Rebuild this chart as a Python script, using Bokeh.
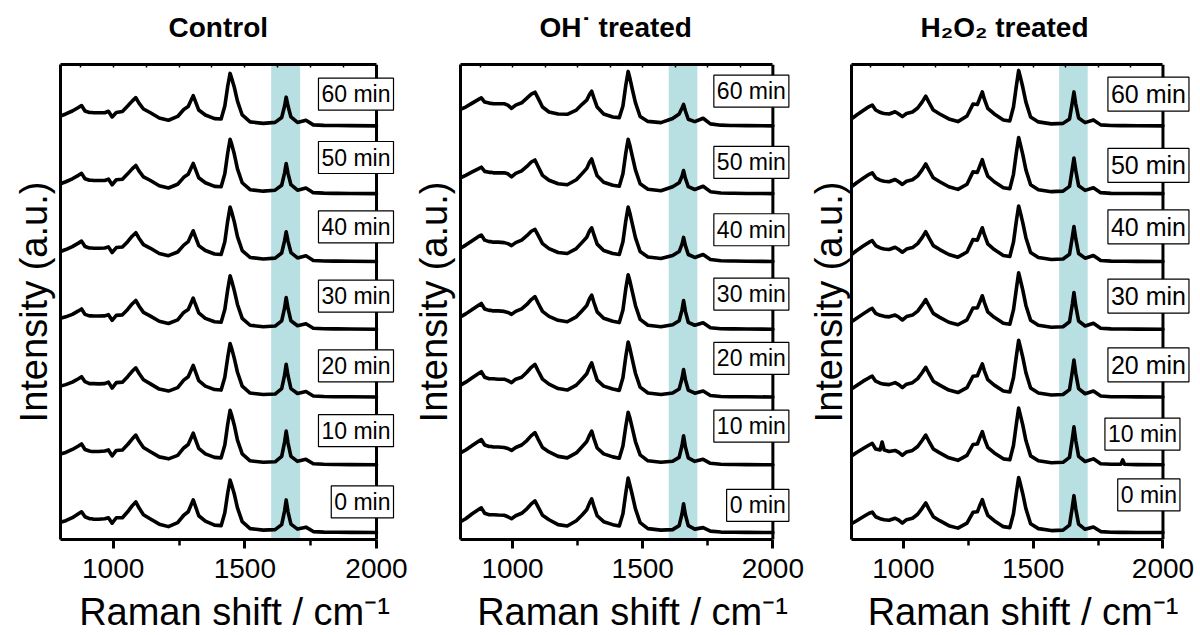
from bokeh.plotting import figure
from bokeh.layouts import row
from bokeh.models import (Label, BoxAnnotation, FixedTicker, Range1d, ColumnDataSource,
                          LinearAxis, Span)
from bokeh.embed import file_html
from bokeh.resources import INLINE

# ---------------- data ----------------
raman_shift = [800, 820, 845, 868, 880, 893, 910, 918, 926, 945,
               968, 982, 996, 1012, 1035, 1055, 1072, 1086, 1098, 1115,
               1140, 1175, 1210, 1245, 1268, 1285, 1296, 1304, 1312, 1325,
               1350, 1385, 1410, 1424, 1435, 1444, 1450, 1460, 1472, 1490,
               1520, 1570, 1615, 1640, 1651, 1657, 1664, 1675, 1700, 1732,
               1760, 1800, 1838, 1845, 1852, 1900, 2000]

times = ["0 min", "10 min", "20 min", "30 min", "40 min", "50 min", "60 min"]
panel_titles = ["Control", "OH\u02d9 treated", "H\u2082O\u2082 treated"]
band_range = [1600, 1710]
x_ticks = [1000, 1500, 2000]
x_minor_ticks = [1250, 1750]
top_minor_ticks = [875, 1000, 1125, 1250, 1375, 1500, 1625, 1750, 1875]

ctrl_0 = [10.5, 12, 15, 19, 21, 16, 14, 14, 13.5, 13.5,
          14, 15, 9.5, 15, 15, 21, 27, 31, 25, 18,
          14, 8.5, 6, 10, 17.5, 21, 28, 33, 27, 17,
          11.5, 7.5, 7, 20, 40, 53, 48, 39, 25, 11,
          4, 2.5, 3, 8, 22, 33, 21, 8.5, 3.5, 5.5,
          1, 0.5, 0.3, 0.3, 0.3, 0.2, 0]
ctrl_10 = [11, 12.5, 15.5, 19, 21, 15.5, 14, 13.5, 13.5, 13.5,
           14, 15, 9, 14.5, 15, 20.5, 26, 30, 24, 17.5,
           13.5, 8, 6, 9.5, 17, 20.5, 27, 32, 26, 16.5,
           11, 7.5, 7, 20, 41, 55, 50, 40, 25, 11,
           4, 2.5, 3, 8.5, 23, 34, 22, 8.5, 3.5, 5.5,
           1, 0.5, 0.3, 0.3, 0.3, 0.2, 0]
ctrl_20 = [11, 12.5, 15, 18.5, 20.5, 15.5, 13.5, 13.5, 13.5, 13.3,
           13.5, 15, 9, 14.5, 15, 20.5, 26, 29.5, 24, 17.5,
           13.5, 8, 6, 9.5, 17, 20.5, 27, 32, 26, 16.5,
           11, 7.5, 7, 20, 40, 54, 49, 39, 25, 11,
           4, 2.5, 3, 8.5, 22, 33, 21.5, 8.5, 3.5, 5.5,
           1, 0.5, 0.3, 0.3, 0.3, 0.2, 0]
ctrl_30 = [11, 12.5, 15, 18.5, 20.5, 15, 13.5, 13.5, 13.3, 13.3,
           13.5, 14.7, 9, 14, 14.5, 20, 25.5, 29, 23.5, 17,
           13.5, 8, 5.8, 9.5, 17, 20, 26.5, 31.5, 25.5, 16.5,
           11, 7.5, 7, 20, 40, 54, 49, 39, 25, 11,
           4, 2.5, 3.2, 8.5, 21.5, 32, 21, 8.5, 3.5, 5.5,
           1, 0.5, 0.3, 0.3, 0.3, 0.2, 0]
ctrl_40 = [10, 12, 15, 18.5, 20.5, 15, 13.5, 13.5, 13.3, 13.3,
           13.5, 14.7, 9, 14, 14.5, 20, 25.5, 29, 23.5, 17,
           13.5, 8, 5.8, 9.5, 16.5, 20, 26.5, 31, 25, 16,
           11, 7.5, 7, 20, 41, 55, 50, 40, 25, 11,
           4, 2.5, 3.3, 8.5, 21, 30, 20.5, 9, 3.5, 5.7,
           1, 0.5, 0.3, 0.3, 0.3, 0.2, 0]
ctrl_50 = [10, 12, 15, 18.5, 20.5, 15, 13.5, 13.5, 13.3, 13.3,
           13.3, 14.7, 9, 14, 14.5, 20, 25, 28.5, 23, 17,
           13.5, 8, 5.7, 9.5, 16.5, 19.5, 26, 30.5, 25, 16,
           11, 7.3, 7, 20, 41, 55, 50, 40, 25, 11,
           4, 2.5, 3.5, 8.5, 21, 30.5, 20.5, 9, 3.5, 5.7,
           1, 0.5, 0.3, 0.3, 0.3, 0.2, 0]
ctrl_60 = [10, 12, 15, 18.5, 20.5, 15, 13.5, 13.5, 13.3, 13.3,
           13.3, 14.7, 9, 13.5, 14.5, 20, 25, 28.5, 23, 17,
           13.5, 8, 5.7, 9.5, 16.5, 19.5, 26, 30.5, 25, 16,
           11, 7.3, 7, 20, 40, 53, 48, 39, 25, 11,
           4, 2.5, 3.5, 8.5, 20, 29, 20, 9, 3.5, 5.7,
           1, 0.5, 0.3, 0.3, 0.3, 0.2, 0]

oh_0 = [11, 14, 19, 23, 25, 19.5, 18, 18, 18, 17.7,
        17.5, 16, 14, 17, 19.5, 24, 29, 32, 26, 17.5,
        13, 8, 6.7, 12, 18, 23, 30, 34, 27, 17,
        11, 8, 6.7, 19, 40, 55, 49, 38, 24, 10,
        4, 2.5, 3, 7, 19, 29, 18, 7, 3.5, 5,
        1.5, 0.5, 0.3, 0.3, 0.3, 0.2, 0]
oh_10 = [12, 15, 19.5, 23.5, 25.5, 20, 18.5, 18.5, 18, 18,
         17.5, 16.5, 14.5, 17.5, 20, 24.5, 29.5, 32.5, 26, 17.5,
         13, 8.5, 7, 12, 18.5, 23.5, 30, 34, 27, 17,
         11, 8, 6.7, 19, 39, 53, 48, 37, 23.5, 10,
         4, 2.5, 3.5, 7.5, 19.5, 29.3, 18, 7, 3.5, 5.5,
         1.5, 0.5, 0.3, 0.3, 0.3, 0.2, 0]
oh_20 = [12, 15, 19.5, 23.5, 25.5, 20, 18.5, 18.5, 18.5, 18,
         18, 16.5, 14.5, 18, 20, 25, 30, 33, 26.5, 18,
         13, 8.5, 7, 12, 18.5, 23.5, 30.5, 34.5, 27.5, 17,
         11, 8, 6.7, 19.5, 41, 55.5, 50, 38, 24, 10,
         4, 2.5, 4, 8, 19, 27.7, 17.5, 7, 3.8, 6,
         1.5, 0.5, 0.3, 0.3, 0.3, 0.2, 0]
oh_30 = [12.5, 15.5, 20, 24, 26, 20.5, 19, 19, 18.5, 18.5,
         18, 17, 15, 18, 20.5, 25, 30, 33, 26.5, 18,
         13, 9, 7.5, 12.5, 19, 24, 31, 34.5, 27.5, 17.5,
         11, 8, 6.7, 19.5, 41, 55, 49.5, 38, 24, 10,
         4, 2.5, 4.5, 8.5, 19.5, 29, 18, 7, 4, 6.5,
         1.5, 0.5, 0.3, 0.3, 0.3, 0.2, 0]
oh_40 = [13.3, 16.5, 21, 25, 26.7, 21.5, 20, 20, 19.5, 19.5,
         19, 18, 16, 19, 21.5, 26, 30.5, 32.3, 26.5, 18,
         13, 9, 8, 13, 19.5, 24.5, 31, 34, 27.5, 17.5,
         11, 8, 7, 20, 41, 55, 49.5, 38, 24, 10,
         4.5, 3, 6, 10, 17.5, 24.3, 16, 7, 4, 7,
         2, 0.7, 0.4, 0.4, 0.4, 0.2, 0]
oh_50 = [16, 18.5, 22, 25, 26.7, 22.5, 21.5, 21.5, 21, 21,
         21, 20, 17, 20.5, 23, 27.5, 32, 34, 27.5, 18.5,
         13.5, 10, 9, 14, 20.5, 25.5, 32, 35, 28, 18,
         11.5, 8.5, 7.5, 20, 41, 55, 49.5, 38, 24, 10,
         4.5, 3, 7, 11, 17.5, 23.3, 15.5, 7, 4.2, 7.5,
         2, 0.7, 0.4, 0.4, 0.4, 0.2, 0]
oh_60 = [16.7, 19, 23, 26.5, 28.3, 24, 23, 22.7, 22.5, 22.3,
         22.3, 21, 17.7, 21, 23.3, 28, 32, 34, 28, 19,
         14, 12, 11.7, 16, 22, 26, 32, 35, 28.5, 19,
         12, 9, 8.3, 20, 41, 55, 49, 37, 23.5, 9.5,
         4.5, 3.3, 7.5, 12, 18, 21.7, 15, 6.7, 4.3, 7.7,
         2, 0.7, 0.4, 0.4, 0.4, 0.2, 0]

h2o2_0 = [9, 12, 16, 19.5, 20.7, 16, 14, 13.5, 13, 12.5,
          14.5, 12.5, 9.5, 13, 14.5, 18.5, 24.5, 30, 24, 16,
          12, 7, 4.5, 9.5, 20.5, 21, 28.5, 33.3, 26.5, 17.5,
          12, 6, 5, 19, 40, 55.7, 50, 39, 24, 9,
          4, 2, 2.5, 7.5, 26, 37.3, 24, 8.5, 3.3, 5.7,
          1, 0.3, 0.2, 0.2, 0.2, 0.1, 0]
h2o2_10 = [9, 12.5, 16.5, 20, 21.7, 16, 15, 23, 15, 13.5,
           14.5, 12.5, 9.5, 13, 14.5, 18.5, 24.5, 30, 24, 16,
           12, 7, 4.5, 9.5, 20.5, 21, 28.5, 33.5, 26.5, 17.5,
           12, 6, 5, 19.5, 41, 57.3, 51, 40, 24.5, 9,
           4, 2, 2.5, 7.5, 26.5, 38.3, 24.5, 8.5, 3.3, 6,
           1, 0.5, 0.5, 5, 0.5, 0.2, 0]
h2o2_20 = [8, 11.5, 16, 19.5, 21, 16, 14, 13.5, 13, 12.5,
           14.5, 12.5, 9.5, 13, 14.5, 18.5, 24.5, 30, 24, 16,
           12, 7, 4.5, 9.5, 21, 21.5, 28.5, 33.5, 26.5, 17.5,
           12, 6, 5, 19.5, 41, 57.3, 51, 40, 24.5, 9,
           4, 2, 2.5, 7.5, 26, 37.3, 24, 8.5, 3.3, 6,
           1, 0.3, 0.2, 0.2, 0.2, 0.1, 0]
h2o2_30 = [7.5, 11, 15.5, 19.5, 21, 16, 14, 13.5, 13, 12.5,
           14.3, 12.3, 9.3, 12.8, 14.3, 18.3, 24.3, 30, 24, 16,
           12, 7, 4.5, 9.5, 21.5, 21.5, 28.5, 33.8, 27, 17.5,
           12, 6, 5, 19.5, 40.5, 57, 50.5, 39.5, 24, 9,
           4, 2, 2.5, 7.5, 25.5, 37, 23.5, 8.3, 3.3, 6,
           1, 0.3, 0.2, 0.2, 0.2, 0.1, 0]
h2o2_40 = [7, 11, 15.5, 19.5, 21, 16, 13.7, 13, 12.5, 12,
           14.3, 12, 9.3, 12.5, 14, 18, 24, 30, 24, 16,
           12, 7, 4.3, 9.5, 22, 21.5, 29, 34, 27, 17.7,
           12, 6, 5, 19.5, 40.5, 56, 50, 39, 24, 9,
           4, 2, 2.5, 7.3, 25, 35.3, 23, 8, 3.3, 6,
           1, 0.3, 0.2, 0.2, 0.2, 0.1, 0]
h2o2_50 = [7, 11, 15.5, 19.5, 21, 16, 13.7, 13, 12.5, 12,
           14.3, 12, 9.3, 12.5, 14, 18, 24, 30, 24, 16,
           12, 7, 4.3, 9.5, 22, 21.5, 29, 34.3, 27, 17.7,
           12, 6, 5, 19.5, 41, 56.7, 50.5, 39.5, 24, 9,
           4, 2, 2.5, 7.3, 25.5, 36, 23.5, 8, 3.3, 6,
           1, 0.3, 0.2, 0.2, 0.2, 0.1, 0]
h2o2_60 = [7, 11, 15.5, 19.5, 21, 16, 13.7, 13, 12.5, 12,
           14.3, 12, 9.3, 12.5, 14, 18, 24, 30, 24, 16,
           12, 7, 4.3, 10, 22, 21.5, 29, 34.3, 27, 17.7,
           12, 6, 5, 19, 40, 56, 50, 39, 24, 9,
           4, 2, 2.5, 7, 24, 34.3, 22, 8, 3.3, 6,
           1, 0.3, 0.2, 0.2, 0.2, 0.1, 0]

control_spectra = [ctrl_0, ctrl_10, ctrl_20, ctrl_30, ctrl_40, ctrl_50, ctrl_60]
oh_spectra = [oh_0, oh_10, oh_20, oh_30, oh_40, oh_50, oh_60]
h2o2_spectra = [h2o2_0, h2o2_10, h2o2_20, h2o2_30, h2o2_40, h2o2_50, h2o2_60]

# ---------------- layout / style ----------------
STEP = 68.5                      # vertical offset between stacked spectra (a.u.)
FONT = "Liberation Sans"
BAND_COLOR = "#b8dfe2"
X_END = 2121.5                   # frame runs a little past 2000 so the tags fit
# tag placement: centre heights (a.u.), right-edge pixel offsets, font sizes
ctrl_label_y = [31, 103, 168.5, 239, 309, 379, 443]
oh_label_y = [27.5, 107.5, 176, 241, 306, 374, 446]
h2o2_label_y = [38, 99.5, 169.5, 239, 309, 371, 443]
ctrl_tag_dx = [17] * 7
oh_tag_dx = [16] * 7
h2o2_tag_dx = [17, 17, 26, 26, 26, 26, 26]
ctrl_tag_size = ["23px"] * 7
oh_tag_size = ["23px"] * 7
h2o2_tag_size = ["23px", "23px", "25px", "25px", "25px", "25px", "25px"]


def make_panel(title, title_offset, spectra, label_y, tag_dx, tag_size, left, right,
               ylabel_standoff):
    p = figure(width=left + 348 + right, height=635,
               x_range=Range1d(800, X_END), y_range=Range1d(-7, 473),
               min_border_left=left, min_border_right=right,
               min_border_top=64, min_border_bottom=91,
               output_backend="svg", toolbar_location=None, title=title)
    p.title.align = "left"
    p.title.offset = title_offset
    p.title.text_font = FONT
    p.title.text_font_size = "28px"
    p.title.text_font_style = "bold"
    p.title.text_color = "black"
    p.title.standoff = 18

    p.xgrid.visible = False
    p.ygrid.visible = False
    p.outline_line_color = None
    p.background_fill_color = "white"

    xa = p.xaxis[0]
    xa.ticker = FixedTicker(ticks=x_ticks, minor_ticks=x_minor_ticks)
    xa.bounds = (800, 2000)
    xa.axis_line_width = 3
    xa.major_tick_line_width = 3
    xa.minor_tick_line_width = 2.5
    xa.major_tick_out = 9
    xa.major_tick_in = 0
    xa.minor_tick_out = 6
    xa.minor_tick_in = 0
    xa.major_label_text_font = FONT
    xa.major_label_text_font_size = "28px"
    xa.major_label_text_color = "black"
    xa.major_label_standoff = 10
    xa.axis_label = "Raman shift / cm\u207b\u00b9"
    xa.axis_label_text_font = FONT
    xa.axis_label_text_font_size = "38px"
    xa.axis_label_text_font_style = "normal"
    xa.axis_label_text_color = "black"
    xa.axis_label_standoff = 10

    ya = p.yaxis[0]
    ya.ticker = FixedTicker(ticks=[])
    ya.axis_line_width = 3
    ya.major_tick_out = 0
    ya.minor_tick_out = 0
    ya.major_label_text_font_size = "0px"
    ya.axis_label = "Intensity (a.u.)"
    ya.axis_label_text_font = FONT
    ya.axis_label_text_font_size = "38px"
    ya.axis_label_text_font_style = "normal"
    ya.axis_label_text_color = "black"
    ya.axis_label_standoff = ylabel_standoff

    # top edge of the box frame, with small inward ticks
    top = LinearAxis(ticker=FixedTicker(ticks=[], minor_ticks=top_minor_ticks),
                     bounds=(800, 2000), axis_line_width=3,
                     major_tick_out=0, major_tick_in=0,
                     minor_tick_in=3, minor_tick_out=0, minor_tick_line_width=1.5,
                     major_label_text_font_size="0px")
    p.add_layout(top, "above")
    # invisible spacer between the frame and the panel title
    spacer = LinearAxis(ticker=FixedTicker(ticks=[], minor_ticks=top_minor_ticks),
                        bounds=(800, 2000), axis_line_color=None,
                        major_tick_out=0, major_tick_in=0,
                        minor_tick_in=0, minor_tick_out=13, minor_tick_line_alpha=0,
                        major_label_text_font_size="0px")
    p.add_layout(spacer, "above")

    p.add_layout(BoxAnnotation(left=band_range[0], right=band_range[1],
                               fill_color=BAND_COLOR, fill_alpha=1.0,
                               line_color=None, level="underlay"))

    for i, spec in enumerate(spectra):
        src = ColumnDataSource(dict(x=raman_shift, y=[v + i * STEP for v in spec]))
        p.line("x", "y", source=src, line_color="black", line_width=3.6,
               line_join="round", line_cap="round")

    # right edge of the box frame at 2000
    p.add_layout(Span(location=2000, dimension="height",
                      line_color="black", line_width=3))

    for i, t in enumerate(times):
        p.add_layout(Label(x=2000, y=label_y[i], x_offset=tag_dx[i], text=t,
                           text_align="right", text_baseline="middle",
                           text_font=FONT, text_font_size=tag_size[i], text_color="black",
                           border_line_color="black", border_line_width=1.2,
                           background_fill_color="white", padding=3))
    return p


p1 = make_panel(panel_titles[0], 108, control_spectra, ctrl_label_y,
                ctrl_tag_dx, ctrl_tag_size, 60, 1, 6)
p2 = make_panel(panel_titles[1], 79, oh_spectra, oh_label_y,
                oh_tag_dx, oh_tag_size, 47, 0, 6)
p3 = make_panel(panel_titles[2], 69, h2o2_spectra, h2o2_label_y,
                h2o2_tag_dx, h2o2_tag_size, 42, 6, 2)

layout = row(p1, p2, p3)
open("out.html", "w").write(file_html(layout, INLINE))
